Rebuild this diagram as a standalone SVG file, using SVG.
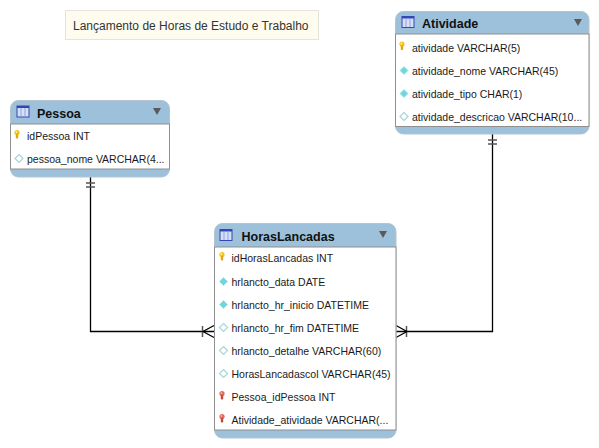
<svg xmlns="http://www.w3.org/2000/svg" width="599" height="448" viewBox="0 0 599 448">
<defs>
<style>
.hdr{fill:#9dc1da;stroke:#b4c3ce;stroke-width:1}
.box{fill:#ffffff;stroke:#8f8f8f;stroke-width:1}
.title{font-family:"Liberation Sans",Arial,sans-serif;font-size:12.5px;font-weight:bold;fill:#111}
.row{font-family:"Liberation Sans",Arial,sans-serif;font-size:10.5px;fill:#1a1a1a}
.note{font-family:"Liberation Sans",Arial,sans-serif;font-size:12px;fill:#333}
.conn{fill:none;stroke:#000;stroke-width:1.3}
.bar{fill:none;stroke:#555;stroke-width:1.5}
.tri{fill:#5a5a5a}
.dfull{fill:#6fd6dc;stroke:#9fe2e6;stroke-width:0.8}
.dhollow{fill:#fff;stroke:#a7d5d8;stroke-width:1.2}
</style>
<g id="tblicon">
<rect x="0.5" y="0.5" width="12" height="11" fill="#d6e0f5" stroke="#3246b8" stroke-width="1"/>
<rect x="0.5" y="0.5" width="12" height="2" fill="#3246b8"/>
<line x1="4.5" y1="2.5" x2="4.5" y2="11" stroke="#8fa3dc" stroke-width="1"/>
<line x1="8.5" y1="2.5" x2="8.5" y2="11" stroke="#8fa3dc" stroke-width="1"/>
</g>
<g id="keyY">
<ellipse cx="3" cy="2.6" rx="2.6" ry="2.6" fill="#f2c21b"/>
<rect x="1.8" y="4" width="2.4" height="4.6" rx="0.8" fill="#e0a80e"/>
<ellipse cx="2.4" cy="2" rx="0.9" ry="1" fill="#fff2a8"/>
</g>
<g id="keyR">
<ellipse cx="3" cy="2.6" rx="2.6" ry="2.6" fill="#e06a5a"/>
<rect x="1.8" y="4" width="2.4" height="4.6" rx="0.8" fill="#c9443a"/>
<ellipse cx="2.4" cy="2" rx="0.9" ry="1" fill="#f5b3a8"/>
</g>
<polygon id="dmd" points="0,-4 4,0 0,4 -4,0"/>
</defs>
<rect width="599" height="448" fill="#ffffff"/>

<g id="note">
<rect x="65.5" y="10.5" width="253" height="29" fill="#fefcee" stroke="#e4e4dc" stroke-width="1"/>
<text class="note" x="73" y="30">Lançamento de Horas de Estudo e Trabalho</text>
</g>

<g id="connectors">
<polyline class="conn" points="90.5,177 90.5,331.5 214,331.5"/>
<line class="bar" x1="86" y1="183" x2="95" y2="183"/>
<line class="bar" x1="86" y1="187" x2="95" y2="187"/>
<line class="bar" x1="202.5" y1="326" x2="202.5" y2="337"/>
<polyline class="conn" points="214,325.5 203,331.5 214,337.5"/>

<polyline class="conn" points="492.5,134 492.5,331.5 396,331.5"/>
<line class="bar" x1="488" y1="140" x2="497" y2="140"/>
<line class="bar" x1="488" y1="144" x2="497" y2="144"/>
<line class="bar" x1="406.5" y1="326" x2="406.5" y2="337"/>
<polyline class="conn" points="396,325.5 407,331.5 396,337.5"/>
</g>

<g id="Pessoa">
<rect class="hdr" x="10.5" y="100.5" width="159" height="76.5" rx="8"/>
<rect class="box" x="10.5" y="124" width="159" height="45"/>
<use href="#tblicon" x="16.5" y="105.5"/>
<text class="title" x="37" y="117.5">Pessoa</text>
<polygon class="tri" points="153,108 161,108 157,115"/>
<use href="#keyY" x="14" y="130"/>
<text class="row" x="27" y="140">idPessoa INT</text>
<use href="#dmd" class="dhollow" x="19" y="158.5"/>
<text class="row" x="27" y="163">pessoa_nome VARCHAR(4...</text>
</g>

<g id="Atividade">
<rect class="hdr" x="395.5" y="11.5" width="193.5" height="122.5" rx="8"/>
<rect class="box" x="395.5" y="34" width="193.5" height="92.5"/>
<use href="#tblicon" x="401.5" y="16"/>
<text class="title" x="422" y="28">Atividade</text>
<polygon class="tri" points="574,19 582,19 578,26"/>
<use href="#keyY" x="399" y="41.5"/>
<text class="row" x="412" y="51.5">atividade VARCHAR(5)</text>
<use href="#dmd" class="dfull" x="404" y="70.5"/>
<text class="row" x="412" y="74.5">atividade_nome VARCHAR(45)</text>
<use href="#dmd" class="dfull" x="404" y="93.5"/>
<text class="row" x="412" y="97.5">atividade_tipo CHAR(1)</text>
<use href="#dmd" class="dhollow" x="404" y="116.5"/>
<text class="row" x="412" y="120.5">atividade_descricao VARCHAR(10...</text>
</g>

<g id="HorasLancadas">
<rect class="hdr" x="214.5" y="223.5" width="181.5" height="214.5" rx="8"/>
<rect class="box" x="214.5" y="247" width="181.5" height="183"/>
<use href="#tblicon" x="219.5" y="229"/>
<text class="title" x="241.5" y="240.5">HorasLancadas</text>
<polygon class="tri" points="379,231 387,231 383,238"/>
<use href="#keyY" x="219" y="252"/>
<text class="row" x="231.5" y="262">idHorasLancadas INT</text>
<use href="#dmd" class="dfull" x="223.5" y="281.5"/>
<text class="row" x="231.5" y="285.5">hrlancto_data DATE</text>
<use href="#dmd" class="dfull" x="223.5" y="304.5"/>
<text class="row" x="231.5" y="308.5">hrlancto_hr_inicio DATETIME</text>
<use href="#dmd" class="dhollow" x="223.5" y="327.5"/>
<text class="row" x="231.5" y="331.5">hrlancto_hr_fim DATETIME</text>
<use href="#dmd" class="dhollow" x="223.5" y="350.5"/>
<text class="row" x="231.5" y="354.5">hrlancto_detalhe VARCHAR(60)</text>
<use href="#dmd" class="dhollow" x="223.5" y="373.5"/>
<text class="row" x="231.5" y="377.5">HorasLancadascol VARCHAR(45)</text>
<use href="#keyR" x="219" y="391"/>
<text class="row" x="231.5" y="401">Pessoa_idPessoa INT</text>
<use href="#keyR" x="219" y="414"/>
<text class="row" x="231.5" y="424">Atividade_atividade VARCHAR(...</text>
</g>
</svg>
